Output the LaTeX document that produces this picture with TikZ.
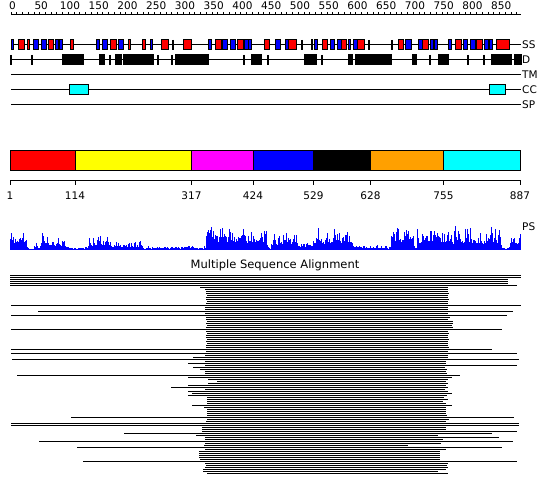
\documentclass[tikz,border=0pt]{standalone}
\usepackage{fontspec}
\setmainfont{DejaVu Sans}
\definecolor{dred}{RGB}{255,0,0}
\definecolor{dyellow}{RGB}{255,255,0}
\definecolor{dmagenta}{RGB}{255,0,255}
\definecolor{dblue}{RGB}{0,0,255}
\definecolor{dorange}{RGB}{255,160,0}
\definecolor{dcyan}{RGB}{0,255,255}
\begin{document}
\begin{tikzpicture}[x=1pt,y=-1pt,
  trk/.style={line width=1pt,black},
  elem/.style={line width=1pt,draw=black},
  lbl/.style={inner sep=0pt,font=\fontsize{10.5}{12}\selectfont},
  msa/.style={line width=1pt,black}]
\fill[white] (0,0) rectangle (550,495);
\useasboundingbox (0,0) rectangle (550,495);
% ---- top ruler
\draw[trk] (11,15) -- (521,15);
\foreach \r in {0,10,...,880}{\draw[line width=1pt] ({11+0.575*\r},15) -- ({11+0.575*\r},12);}
\foreach \r in {0,50,...,850}{\node[lbl] (rl\r) at ({12.5+0.575*\r},6) {\r};}
% ---- tracks
\foreach \yy in {45,60,75,90,105}{\draw[trk] (11,\yy) -- (521,\yy);}
\node[lbl,anchor=west] (lss) at (522,45) {SS};
\node[lbl,anchor=west] (ld) at (522,60) {D};
\node[lbl,anchor=west] (ltm) at (522,75) {TM};
\node[lbl,anchor=west] (lcc) at (522,90) {CC};
\node[lbl,anchor=west] (lsp) at (522,105) {SP};
% SS blue
\foreach \a/\b in {11/13,33/38,41/46,55/58,59/62,96/99,102/107,118/123,150/152,208/211,222/227,230/235,244/248,248/251,275/280,285/288,314/317,330/334,337/341,348/350,353/357,405/411,418/422,430/433,434/437,448/451,463/467,470/475,484/488,489/492}
  {\filldraw[elem,fill=dblue] (\a,40) rectangle (\b,50);}
% SS red
\foreach \a/\b in {18/24,27/29,48/53,70/73,110/116,128/130,142/145,161/168,183/191,215/221,237/243,264/269,288/296,311/312,322/327,341/346,357/364,398/403,422/428,455/461,476/482,496/509}
  {\filldraw[elem,fill=dred] (\a,40) rectangle (\b,50);}
\foreach \a in {173,302,369,392}{\draw[line width=1.2pt] (\a,40) -- (\a,50);}
% D boxes
\foreach \a/\b in {62/83,99/104,115/121,123/153,175/208,251/261,304/316,348/352,355/391,412/416,438/448,491/497,498/511,514/521}
  {\filldraw[elem,fill=black] (\a,55) rectangle (\b,65);}
\foreach \a in {11,32,110,158,172,244,268,322,430,468,484}{\draw[line width=1.2pt] (\a,55) -- (\a,65);}
% CC boxes
\filldraw[elem,fill=dcyan] (69,85) rectangle (88,95);
\filldraw[elem,fill=dcyan] (489,85) rectangle (505,95);
% ---- domain bar
\foreach \a/\b/\c in {10/75/dred,75/191.5/dyellow,191.5/253/dmagenta,253/313.5/dblue,313.5/370.5/black,370.5/443.5/dorange,443.5/520/dcyan}
  {\filldraw[elem,fill=\c] (\a,150.5) rectangle (\b,170.5);}
\draw[trk] (10,180.5) -- (520,180.5);
\foreach \x/\t in {10/1,75/114,191.5/317,253/424,313.5/529,370.5/628,443.5/755,520/887}
  {\draw[trk] (\x,180.5) -- (\x,185.5); \node[lbl] (dl\t) at (\x,196) {\t};}
% ---- PS profile
\pgfmathsetseed{11}
\gdef\hprev{5}
\foreach \a/\b/\lo/\hi in {10/20/6/19,21/23/9/25,24/26/4/13,27/33/0.8/1.5,34/40/2/9,41/47/6/25,48/64/4/15,65/87/1.2/3.5,88/110/4/18,111/140/2/9,141/205/1.2/4.5,206/266/6/25,267/270/1/2,271/297/5/19,298/312/2/10,313/352/6/25,353/386/1.5/5,387/390/1/3,391/413/6/23,414/416/1/2,417/500/6/26,501/509/1.2/3,510/520/6/22}{
  \foreach \x in {\a,...,\b}{
    \pgfmathsetmacro\rr{rnd}
    \pgfmathsetmacro\h{0.2*\hprev+0.8*(\lo+(\hi-\lo)*\rr^1.6)}
    \xdef\hprev{\h}
    \fill[dblue] ({\x-0.5},250) rectangle ({\x+0.5},{250-\h});
  }
}
\node[lbl,anchor=west] (lps) at (522,227) {PS};
% ---- MSA
\node[lbl,font=\fontsize{11.5}{13}\selectfont] (msat) at (275,265) {Multiple Sequence Alignment};
\foreach \yy/\a/\b in {275/10/521,277/10/521,279/10/508,281/10/508,283/10/508,285/10/517,287/200/448,289/205/448,291/206/448,293/206/449,295/207/448,297/206/448,299/206/449,301/207/448,303/206/448,305/11/521,307/205/448,309/205/448,311/38/513,313/205/448,315/11/507,317/206/450,319/206/448,321/207/453,323/206/453,325/207/452,327/206/453,329/11/502,331/206/448,333/207/449,335/206/448,337/206/448,339/207/449,341/206/448,343/207/448,345/206/448,347/206/449,349/11/492,351/206/448,353/11/517,355/205/448,357/193/448,359/12/519,361/205/446,363/188/446,365/205/517,367/193/445,369/200/447,371/205/446,373/205/447,375/17/460,377/188/452,379/208/448,381/217/446,383/208/448,385/188/446,387/171/448,389/205/445,391/188/448,393/192/452,395/188/447,397/207/444,399/207/448,401/207/443,403/207/446,405/192/452,407/204/446,409/207/446,411/207/446,413/207/446,415/207/447,417/71/514,419/207/449,421/206/446,423/11/519,425/11/519,427/202/446,429/202/446,431/202/517,433/124/492,435/196/438,437/205/499,439/205/443,441/39/513,443/205/441,445/204/408,447/77/502,449/205/446,451/199/440,453/199/440,455/199/440,457/199/440,459/200/440,461/83/517,463/205/448,465/206/447,467/205/448,469/203/446,471/203/438,473/207/448}
  {\draw[msa] (\a,\yy) -- (\b,\yy);}
\end{tikzpicture}
\end{document}
